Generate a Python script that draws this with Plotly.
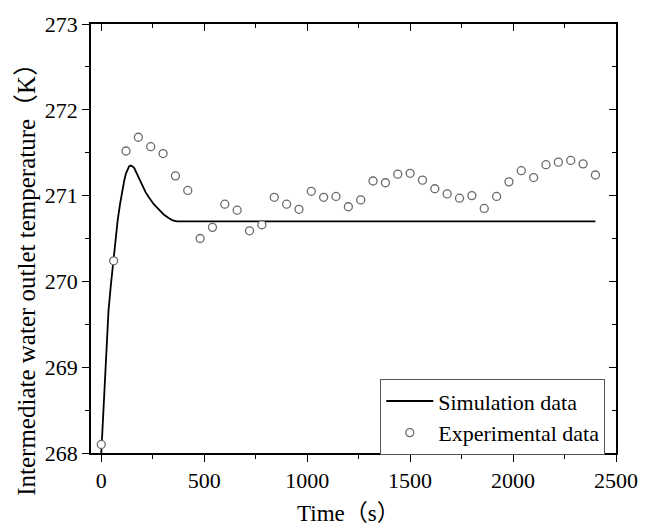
import plotly.graph_objects as go

# Simulation curve
sim_t = [0, 5, 10, 17, 24, 35, 47, 59, 68, 80, 91, 101, 111, 120, 127, 135, 143, 152, 160, 175, 187,
         199, 215, 231, 255, 279, 303, 327, 347, 367, 400, 2400]
sim_T = [268.00, 268.25, 268.48, 268.87, 269.25, 269.66, 269.97, 270.24, 270.51, 270.72, 270.90, 271.05,
         271.17, 271.26, 271.30, 271.34, 271.35, 271.34, 271.32, 271.24, 271.18,
         271.11, 271.04, 270.98, 270.90, 270.84, 270.78, 270.74, 270.71, 270.70, 270.70, 270.70]

# Experimental points
exp_t = list(range(0, 2401, 60))
exp_T = [268.10, 270.24, 271.52, 271.68, 271.57, 271.49, 271.23, 271.06, 270.50, 270.63,
         270.90, 270.83, 270.59, 270.66, 270.98, 270.90, 270.84, 271.05, 270.98, 270.99,
         270.87, 270.95, 271.17, 271.15, 271.25, 271.26, 271.18, 271.08, 271.02, 270.97,
         271.00, 270.85, 270.99, 271.16, 271.29, 271.21, 271.36, 271.39, 271.41, 271.37,
         271.24]

x_range = [-50, 2500]
y_range = [268, 273]
x_label = "Time（s）"
y_label = "Intermediate water outlet temperature（K）"

FONT = "Liberation Serif, Noto Sans CJK SC"
fs = 22

fig = go.Figure()
fig.add_trace(go.Scatter(x=sim_t, y=sim_T, mode="lines", name="Simulation data",
                         line=dict(color="black", width=1.8)))
fig.add_trace(go.Scatter(x=exp_t, y=exp_T, mode="markers", name="Experimental data",
                         marker=dict(symbol="circle", size=8, color="white",
                                     line=dict(color="#6a6a6a", width=1.3))))
# invisible trace for mirrored axes
fig.add_trace(go.Scatter(x=exp_t, y=exp_T, mode="none", xaxis="x2", yaxis="y2",
                         showlegend=False, hoverinfo="skip"))

axcommon = dict(showgrid=False, zeroline=False, showline=True, linecolor="black", linewidth=1.6,
                tickcolor="black", tickwidth=1.4,
                tickfont=dict(family=FONT, size=fs, color="black"))

fig.update_layout(
    width=650, height=525,
    margin=dict(l=91, r=26, t=23, b=72),
    plot_bgcolor="white", paper_bgcolor="white",
    xaxis=dict(range=x_range, tick0=0, dtick=500, ticks="outside", ticklen=7,
               minor=dict(dtick=250, tick0=0, ticks="outside", ticklen=4, tickcolor="black", tickwidth=1.4),
               **axcommon),
    yaxis=dict(range=y_range, tick0=268, dtick=1, ticks="outside", ticklen=7,
               minor=dict(dtick=0.5, tick0=268, ticks="outside", ticklen=4, tickcolor="black", tickwidth=1.4),
               **axcommon),
    xaxis2=dict(range=x_range, overlaying="x", side="top", anchor="y", tick0=0, dtick=500,
                ticks="inside", ticklen=7, showticklabels=False,
                minor=dict(dtick=250, tick0=0, ticks="inside", ticklen=4, tickcolor="black", tickwidth=1.4),
                **axcommon),
    yaxis2=dict(range=y_range, overlaying="y", side="right", anchor="x", tick0=268, dtick=1,
                ticks="inside", ticklen=7, showticklabels=False,
                minor=dict(dtick=0.5, tick0=268, ticks="inside", ticklen=4, tickcolor="black", tickwidth=1.4),
                **axcommon),
    legend=dict(x=0.551, y=0.172, xanchor="left", yanchor="top",
                bordercolor="#555555", borderwidth=1, bgcolor="white",
                font=dict(family=FONT, size=fs, color="black"),
                itemwidth=47, tracegroupgap=0),
    showlegend=True,
    annotations=[
        dict(text=x_label, xref="paper", yref="paper", x=0.49, y=-0.142,
             xanchor="center", yanchor="middle", showarrow=False,
             font=dict(family=FONT, size=23, color="black")),
        dict(text=y_label, xref="paper", yref="paper", x=-0.122, y=0.42,
             xanchor="center", yanchor="middle", showarrow=False, textangle=-90,
             font=dict(family=FONT, size=25, color="black")),
    ],
)

fig.write_html("out.html")
